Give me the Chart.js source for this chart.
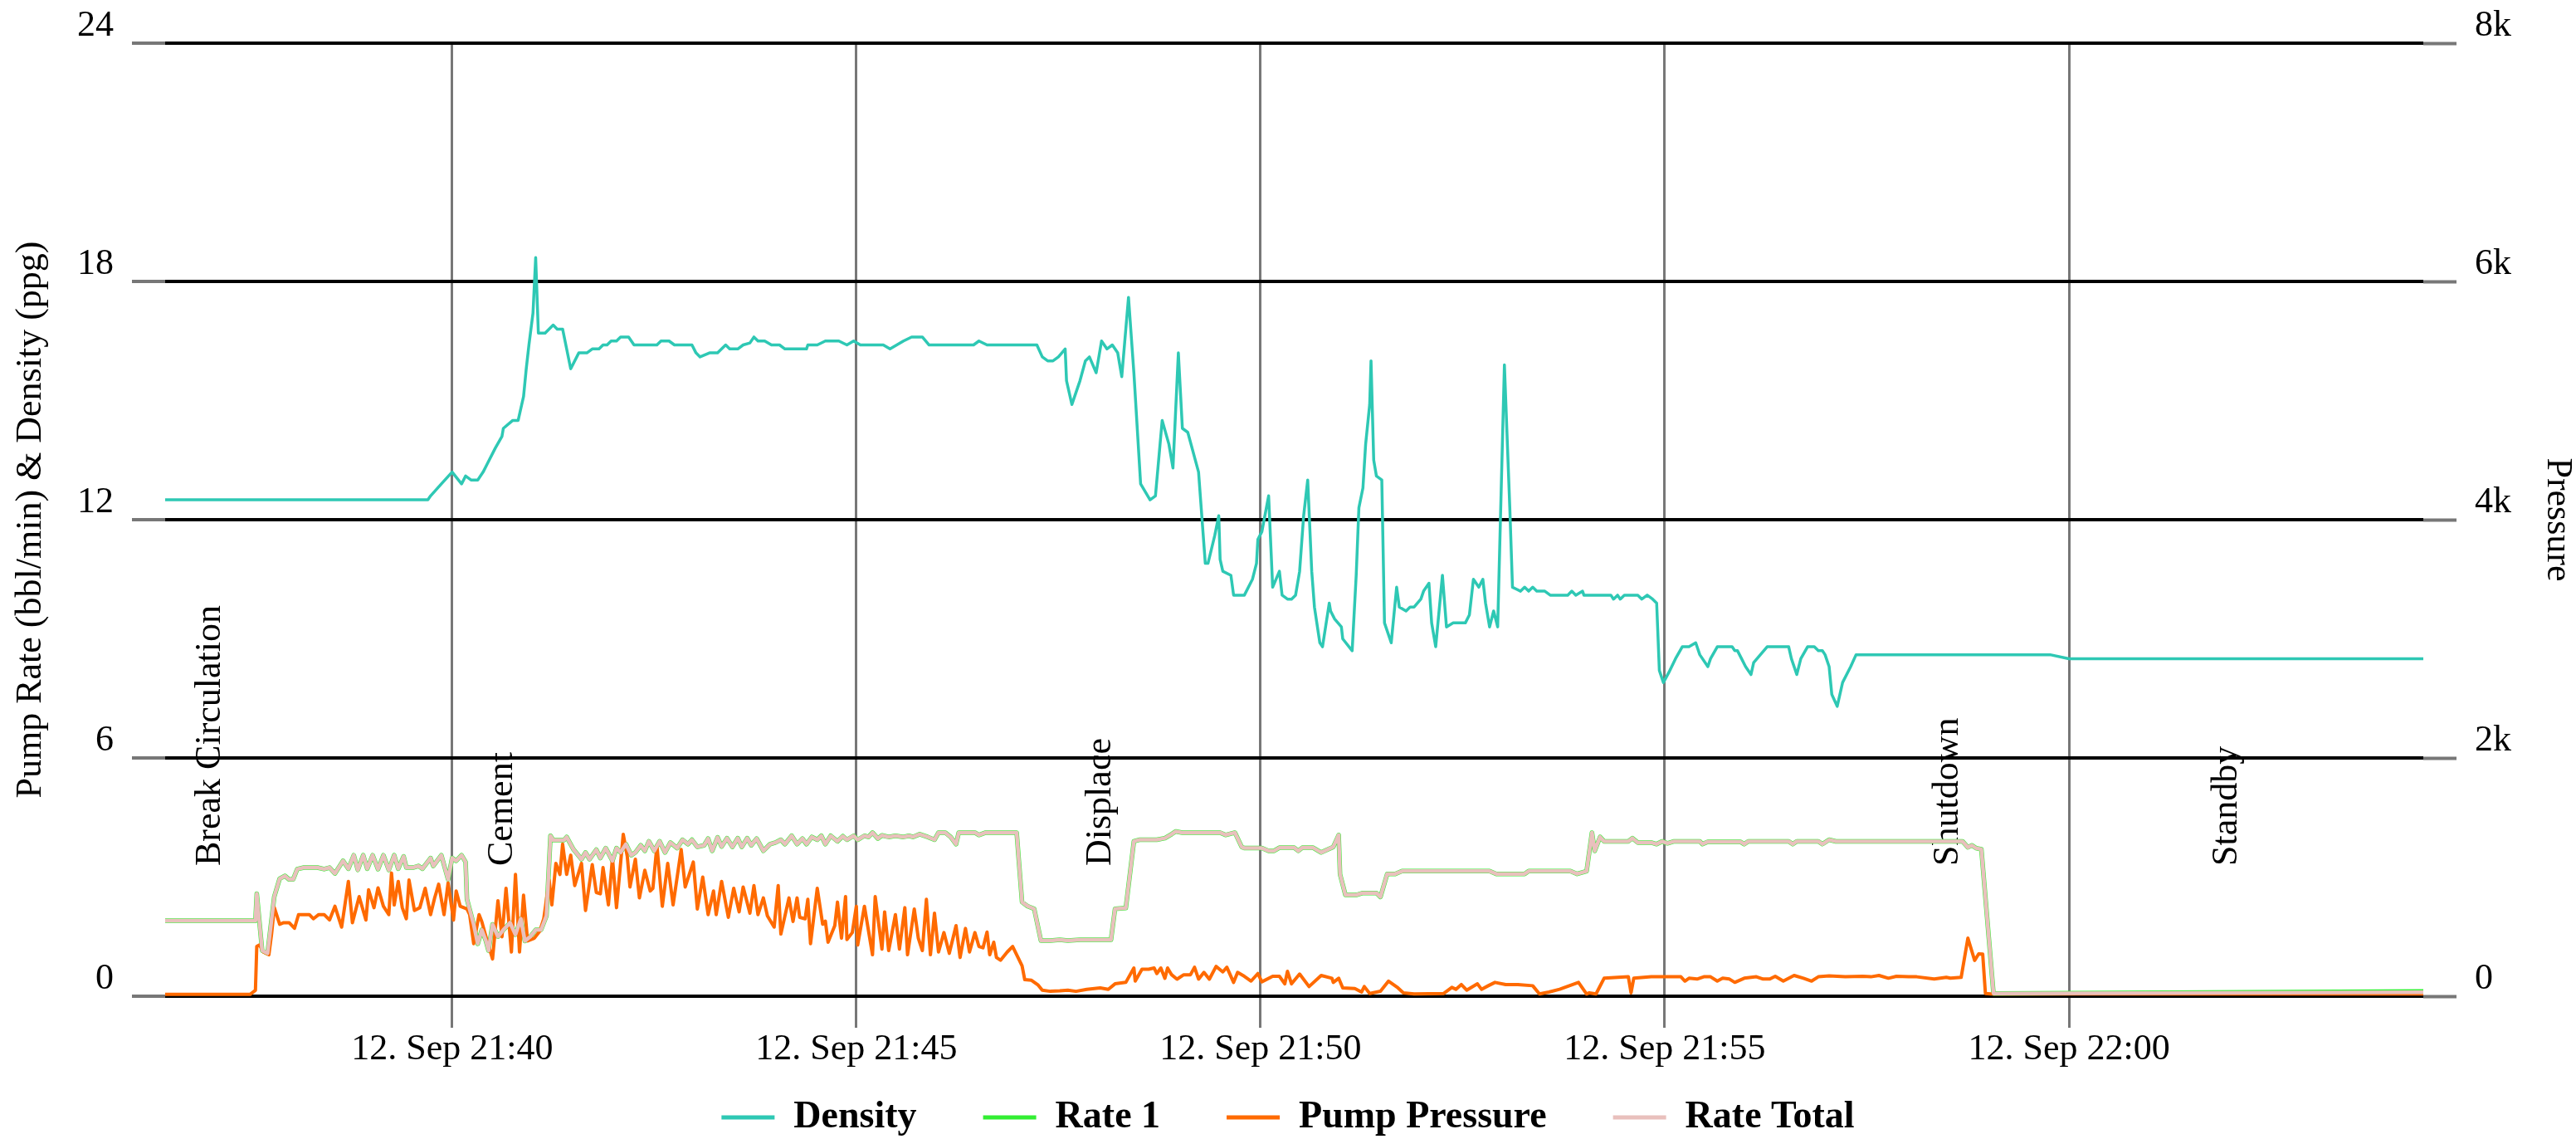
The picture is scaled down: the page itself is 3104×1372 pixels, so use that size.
<!DOCTYPE html>
<html>
<head>
<meta charset="utf-8">
<script src="https://cdn.jsdelivr.net/npm/chart.js@4.4.1/dist/chart.umd.min.js"></script>
<style>
  html, body { margin: 0; padding: 0; background: #fff; }
</style>
</head>
<body>
<canvas id="chart" width="3104" height="1372"></canvas>
<script>
// readings: [clock time, value]
const densitySeries = [
  ['21:36:27',12.5],['21:39:42',12.5],['21:39:44',12.6],['21:39:52',12.9],['21:40:00',13.2],['21:40:07',12.9],['21:40:10',13.1],['21:40:14',13.0],['21:40:19',13.0],['21:40:23',13.2],
  ['21:40:26',13.4],['21:40:32',13.8],['21:40:37',14.1],['21:40:38',14.3],['21:40:45',14.5],['21:40:49',14.5],['21:40:53',15.1],['21:40:55',15.8],['21:40:57',16.4],['21:41:00',17.2],
  ['21:41:02',18.6],['21:41:04',16.7],['21:41:09',16.7],['21:41:15',16.9],['21:41:18',16.8],['21:41:22',16.8],['21:41:28',15.8],['21:41:34',16.2],['21:41:40',16.2],['21:41:44',16.3],
  ['21:41:49',16.3],['21:41:52',16.4],['21:41:55',16.4],['21:41:58',16.5],['21:42:02',16.5],['21:42:05',16.6],['21:42:11',16.6],['21:42:15',16.4],['21:42:32',16.4],['21:42:35',16.5],
  ['21:42:41',16.5],['21:42:45',16.4],['21:42:58',16.4],['21:43:01',16.2],['21:43:04',16.1],['21:43:11',16.2],['21:43:17',16.2],['21:43:20',16.3],['21:43:23',16.4],['21:43:26',16.3],
  ['21:43:32',16.3],['21:43:36',16.4],['21:43:41',16.45],['21:43:44',16.6],['21:43:47',16.5],['21:43:52',16.5],['21:43:57',16.4],['21:44:03',16.4],['21:44:07',16.3],['21:44:23',16.3],
  ['21:44:24',16.4],['21:44:31',16.4],['21:44:37',16.5],['21:44:47',16.5],['21:44:53',16.4],['21:44:58',16.5],['21:45:03',16.4],['21:45:20',16.4],['21:45:25',16.3],['21:45:30',16.4],
  ['21:45:35',16.5],['21:45:41',16.6],['21:45:49',16.6],['21:45:54',16.4],['21:46:27',16.4],['21:46:31',16.5],['21:46:37',16.4],['21:47:14',16.4],['21:47:18',16.1],['21:47:22',16.0],
  ['21:47:26',16.0],['21:47:30',16.1],['21:47:35',16.3],['21:47:36',15.5],['21:47:40',14.9],['21:47:43',15.2],['21:47:46',15.5],['21:47:50',16.0],['21:47:53',16.1],['21:47:58',15.7],
  ['21:48:02',16.5],['21:48:06',16.3],['21:48:10',16.4],['21:48:14',16.2],['21:48:17',15.6],['21:48:22',17.6],['21:48:26',15.7],['21:48:31',12.9],['21:48:38',12.5],['21:48:42',12.6],
  ['21:48:47',14.5],['21:48:52',13.9],['21:48:55',13.3],['21:48:59',16.2],['21:49:02',14.3],['21:49:06',14.2],['21:49:14',13.2],['21:49:19',10.9],['21:49:21',10.9],['21:49:26',11.6],
  ['21:49:29',12.1],['21:49:30',11.0],['21:49:32',10.7],['21:49:38',10.6],['21:49:40',10.1],['21:49:48',10.1],['21:49:54',10.5],['21:49:57',10.9],['21:49:58',11.5],['21:50:01',11.7],
  ['21:50:06',12.6],['21:50:09',10.3],['21:50:14',10.7],['21:50:16',10.1],['21:50:20',10.0],['21:50:23',10.0],['21:50:26',10.1],['21:50:29',10.7],['21:50:32',12.1],['21:50:35',13.0],
  ['21:50:38',10.7],['21:50:40',9.8],['21:50:44',8.9],['21:50:46',8.8],['21:50:51',9.9],['21:50:52',9.7],['21:50:55',9.5],['21:51:00',9.3],['21:51:01',9.0],['21:51:08',8.7],
  ['21:51:11',10.6],['21:51:13',12.3],['21:51:16',12.8],['21:51:18',13.9],['21:51:21',14.9],['21:51:22',16.0],['21:51:24',13.5],['21:51:26',13.1],['21:51:30',13.0],['21:51:32',9.4],
  ['21:51:37',8.9],['21:51:41',10.3],['21:51:43',9.8],['21:51:48',9.7],['21:51:51',9.8],['21:51:54',9.8],['21:51:59',10.0],['21:52:01',10.2],['21:52:05',10.4],['21:52:07',9.4],
  ['21:52:10',8.8],['21:52:15',10.6],['21:52:18',9.3],['21:52:23',9.4],['21:52:32',9.4],['21:52:35',9.6],['21:52:38',10.5],['21:52:42',10.3],['21:52:45',10.5],['21:52:47',9.9],
  ['21:52:50',9.3],['21:52:53',9.7],['21:52:56',9.3],['21:53:01',15.9],['21:53:05',12.3],['21:53:07',10.3],['21:53:10',10.25],['21:53:13',10.2],['21:53:16',10.3],['21:53:19',10.2],
  ['21:53:22',10.3],['21:53:25',10.2],['21:53:31',10.2],['21:53:35',10.1],['21:53:48',10.1],['21:53:51',10.2],['21:53:54',10.1],['21:53:59',10.2],['21:54:00',10.1],['21:54:20',10.1],
  ['21:54:22',10.0],['21:54:25',10.1],['21:54:27',10.0],['21:54:30',10.1],['21:54:40',10.1],['21:54:43',10.0],['21:54:47',10.1],['21:54:51',10.0],['21:54:54',9.9],['21:54:56',8.2],
  ['21:54:59',7.9],['21:55:03',8.15],['21:55:08',8.5],['21:55:13',8.8],['21:55:18',8.8],['21:55:23',8.9],['21:55:26',8.6],['21:55:32',8.3],['21:55:34',8.5],['21:55:39',8.8],
  ['21:55:50',8.8],['21:55:52',8.7],['21:55:54',8.7],['21:55:57',8.5],['21:56:00',8.3],['21:56:04',8.1],['21:56:06',8.4],['21:56:11',8.6],['21:56:16',8.8],['21:56:32',8.8],
  ['21:56:34',8.5],['21:56:38',8.1],['21:56:41',8.5],['21:56:46',8.8],['21:56:51',8.8],['21:56:54',8.7],['21:56:57',8.7],['21:56:59',8.6],['21:57:02',8.3],['21:57:04',7.6],
  ['21:57:08',7.3],['21:57:12',7.9],['21:57:18',8.3],['21:57:22',8.6],['21:59:46',8.6],['22:00:00',8.5],['22:04:23',8.5]
];

const rateTotalSeries = [
  ['21:36:27',1.90],['21:37:34',1.90],['21:37:35',2.58],['21:37:39',1.15],['21:37:43',1.08],['21:37:48',2.51],['21:37:52',2.96],['21:37:56',3.03],['21:37:59',2.94],['21:38:02',2.94],
  ['21:38:05',3.20],['21:38:10',3.24],['21:38:20',3.24],['21:38:25',3.20],['21:38:29',3.24],['21:38:33',3.09],['21:38:39',3.41],['21:38:43',3.21],['21:38:47',3.55],['21:38:50',3.18],
  ['21:38:54',3.55],['21:38:57',3.21],['21:39:01',3.55],['21:39:05',3.20],['21:39:09',3.55],['21:39:13',3.18],['21:39:17',3.55],['21:39:20',3.21],['21:39:24',3.52],['21:39:26',3.24],
  ['21:39:31',3.24],['21:39:35',3.28],['21:39:38',3.21],['21:39:44',3.48],['21:39:46',3.28],['21:39:52',3.55],['21:39:57',2.94],['21:40:00',3.48],['21:40:03',3.41],['21:40:07',3.55],
  ['21:40:10',3.38],['21:40:11',2.44],['21:40:16',1.81],['21:40:19',1.32],['21:40:22',1.67],['21:40:25',1.40],['21:40:27',1.15],['21:40:30',1.81],['21:40:34',1.50],['21:40:38',1.67],
  ['21:40:43',1.85],['21:40:47',1.55],['21:40:51',1.95],['21:40:54',1.39],['21:40:58',1.50],['21:41:02',1.67],['21:41:06',1.67],['21:41:10',2.02],['21:41:13',4.04],['21:41:15',3.93],
  ['21:41:23',3.93],['21:41:25',4.01],['21:41:30',3.70],['21:41:36',3.45],['21:41:39',3.62],['21:41:42',3.45],['21:41:47',3.69],['21:41:50',3.48],['21:41:54',3.73],['21:41:59',3.41],
  ['21:42:02',3.73],['21:42:05',3.62],['21:42:09',3.83],['21:42:13',3.55],['21:42:16',3.62],['21:42:20',3.80],['21:42:23',3.66],['21:42:26',3.90],['21:42:30',3.66],['21:42:34',3.90],
  ['21:42:38',3.62],['21:42:42',3.87],['21:42:47',3.73],['21:42:51',3.94],['21:42:55',3.83],['21:42:58',3.94],['21:43:02',3.76],['21:43:07',3.80],['21:43:10',3.97],['21:43:13',3.66],
  ['21:43:17',4.00],['21:43:20',3.77],['21:43:24',3.98],['21:43:28',3.76],['21:43:32',3.98],['21:43:35',3.76],['21:43:39',3.98],['21:43:42',3.80],['21:43:46',3.97],['21:43:51',3.66],
  ['21:43:56',3.83],['21:44:00',3.87],['21:44:04',3.94],['21:44:07',3.83],['21:44:12',4.04],['21:44:16',3.83],['21:44:20',3.97],['21:44:23',3.83],['21:44:27',4.01],['21:44:31',3.94],
  ['21:44:34',4.04],['21:44:37',3.83],['21:44:41',4.04],['21:44:46',3.90],['21:44:50',4.03],['21:44:53',3.94],['21:44:58',4.04],['21:45:01',3.94],['21:45:06',4.04],['21:45:09',4.01],
  ['21:45:12',4.12],['21:45:16',3.97],['21:45:19',4.05],['21:45:24',4.01],['21:45:29',4.04],['21:45:35',4.01],['21:45:39',4.04],['21:45:42',4.01],['21:45:47',4.08],['21:45:53',4.01],
  ['21:45:58',3.94],['21:46:01',4.12],['21:46:06',4.12],['21:46:10',4.01],['21:46:14',3.83],['21:46:16',4.12],['21:46:28',4.12],['21:46:31',4.06],['21:46:36',4.12],['21:46:59',4.12],
  ['21:47:03',2.37],['21:47:07',2.27],['21:47:12',2.20],['21:47:17',1.40],['21:47:24',1.40],['21:47:31',1.42],['21:47:37',1.40],['21:47:46',1.42],['21:48:09',1.42],['21:48:12',2.20],
  ['21:48:20',2.22],['21:48:26',3.90],['21:48:30',3.94],['21:48:43',3.94],['21:48:49',3.98],['21:48:54',4.08],['21:48:57',4.15],['21:49:02',4.12],['21:49:30',4.12],['21:49:34',4.06],
  ['21:49:41',4.12],['21:49:46',3.76],['21:49:48',3.73],['21:50:01',3.73],['21:50:06',3.66],['21:50:10',3.66],['21:50:14',3.74],['21:50:25',3.74],['21:50:28',3.66],['21:50:31',3.74],
  ['21:50:39',3.74],['21:50:45',3.62],['21:50:54',3.76],['21:50:58',4.06],['21:50:59',3.07],['21:51:03',2.55],['21:51:11',2.55],['21:51:16',2.60],['21:51:26',2.60],['21:51:29',2.50],
  ['21:51:34',3.08],['21:51:40',3.08],['21:51:45',3.15],['21:52:50',3.15],['21:52:55',3.08],['21:53:16',3.08],['21:53:19',3.15],['21:53:50',3.15],['21:53:55',3.08],['21:54:02',3.15],
  ['21:54:06',4.12],['21:54:08',3.66],['21:54:12',4.01],['21:54:15',3.90],['21:54:33',3.90],['21:54:36',3.98],['21:54:40',3.87],['21:54:50',3.87],['21:54:54',3.83],['21:54:58',3.90],
  ['21:55:02',3.85],['21:55:07',3.90],['21:55:26',3.90],['21:55:28',3.83],['21:55:32',3.89],['21:55:56',3.89],['21:55:59',3.83],['21:56:02',3.90],['21:56:32',3.90],['21:56:35',3.83],
  ['21:56:38',3.90],['21:56:54',3.90],['21:56:57',3.83],['21:57:02',3.94],['21:57:07',3.90],['21:58:41',3.90],['21:58:45',3.75],['21:58:48',3.80],['21:58:51',3.73],['21:58:55',3.70],
  ['21:59:04',0.07],['22:04:23',0.10]
];

const rate1Series = [
  ['21:36:27',1.90],['21:37:34',1.90],['21:37:35',2.58],['21:37:39',1.15],['21:37:43',1.08],['21:37:48',2.51],['21:37:52',2.96],['21:37:56',3.03],['21:37:59',2.94],['21:38:02',2.94],
  ['21:38:05',3.20],['21:38:10',3.24],['21:38:20',3.24],['21:38:25',3.20],['21:38:29',3.24],['21:38:33',3.09],['21:38:39',3.41],['21:38:43',3.21],['21:38:47',3.55],['21:38:50',3.18],
  ['21:38:54',3.55],['21:38:57',3.21],['21:39:01',3.55],['21:39:05',3.20],['21:39:09',3.55],['21:39:13',3.18],['21:39:17',3.55],['21:39:20',3.21],['21:39:24',3.52],['21:39:26',3.24],
  ['21:39:31',3.24],['21:39:35',3.28],['21:39:38',3.21],['21:39:44',3.48],['21:39:46',3.28],['21:39:52',3.55],['21:39:57',2.94],['21:40:00',3.48],['21:40:03',3.41],['21:40:07',3.55],
  ['21:40:10',3.38],['21:40:11',2.44],['21:40:16',1.81],['21:40:19',1.32],['21:40:22',1.67],['21:40:25',1.40],['21:40:27',1.15],['21:40:30',1.81],['21:40:34',1.50],['21:40:38',1.67],
  ['21:40:43',1.85],['21:40:47',1.55],['21:40:51',1.95],['21:40:54',1.39],['21:40:58',1.50],['21:41:02',1.67],['21:41:06',1.67],['21:41:10',2.02],['21:41:13',4.04],['21:41:15',3.93],
  ['21:41:23',3.93],['21:41:25',4.01],['21:41:30',3.70],['21:41:36',3.45],['21:41:39',3.62],['21:41:42',3.45],['21:41:47',3.69],['21:41:50',3.48],['21:41:54',3.73],['21:41:59',3.41],
  ['21:42:02',3.73],['21:42:05',3.62],['21:42:09',3.83],['21:42:13',3.55],['21:42:16',3.62],['21:42:20',3.80],['21:42:23',3.66],['21:42:26',3.90],['21:42:30',3.66],['21:42:34',3.90],
  ['21:42:38',3.62],['21:42:42',3.87],['21:42:47',3.73],['21:42:51',3.94],['21:42:55',3.83],['21:42:58',3.94],['21:43:02',3.76],['21:43:07',3.80],['21:43:10',3.97],['21:43:13',3.66],
  ['21:43:17',4.00],['21:43:20',3.77],['21:43:24',3.98],['21:43:28',3.76],['21:43:32',3.98],['21:43:35',3.76],['21:43:39',3.98],['21:43:42',3.80],['21:43:46',3.97],['21:43:51',3.66],
  ['21:43:56',3.83],['21:44:00',3.87],['21:44:04',3.94],['21:44:07',3.83],['21:44:12',4.04],['21:44:16',3.83],['21:44:20',3.97],['21:44:23',3.83],['21:44:27',4.01],['21:44:31',3.94],
  ['21:44:34',4.04],['21:44:37',3.83],['21:44:41',4.04],['21:44:46',3.90],['21:44:50',4.03],['21:44:53',3.94],['21:44:58',4.04],['21:45:01',3.94],['21:45:06',4.04],['21:45:09',4.01],
  ['21:45:12',4.12],['21:45:16',3.97],['21:45:19',4.05],['21:45:24',4.01],['21:45:29',4.04],['21:45:35',4.01],['21:45:39',4.04],['21:45:42',4.01],['21:45:47',4.08],['21:45:53',4.01],
  ['21:45:58',3.94],['21:46:01',4.12],['21:46:06',4.12],['21:46:10',4.01],['21:46:14',3.83],['21:46:16',4.12],['21:46:28',4.12],['21:46:31',4.06],['21:46:36',4.12],['21:46:59',4.12],
  ['21:47:03',2.37],['21:47:07',2.27],['21:47:12',2.20],['21:47:17',1.40],['21:47:24',1.40],['21:47:31',1.42],['21:47:37',1.40],['21:47:46',1.42],['21:48:09',1.42],['21:48:12',2.20],
  ['21:48:20',2.22],['21:48:26',3.90],['21:48:30',3.94],['21:48:43',3.94],['21:48:49',3.98],['21:48:54',4.08],['21:48:57',4.15],['21:49:02',4.12],['21:49:30',4.12],['21:49:34',4.06],
  ['21:49:41',4.12],['21:49:46',3.76],['21:49:48',3.73],['21:50:01',3.73],['21:50:06',3.66],['21:50:10',3.66],['21:50:14',3.74],['21:50:25',3.74],['21:50:28',3.66],['21:50:31',3.74],
  ['21:50:39',3.74],['21:50:45',3.62],['21:50:54',3.76],['21:50:58',4.06],['21:50:59',3.07],['21:51:03',2.55],['21:51:11',2.55],['21:51:16',2.60],['21:51:26',2.60],['21:51:29',2.50],
  ['21:51:34',3.08],['21:51:40',3.08],['21:51:45',3.15],['21:52:50',3.15],['21:52:55',3.08],['21:53:16',3.08],['21:53:19',3.15],['21:53:50',3.15],['21:53:55',3.08],['21:54:02',3.15],
  ['21:54:06',4.12],['21:54:08',3.66],['21:54:12',4.01],['21:54:15',3.90],['21:54:33',3.90],['21:54:36',3.98],['21:54:40',3.87],['21:54:50',3.87],['21:54:54',3.83],['21:54:58',3.90],
  ['21:55:02',3.85],['21:55:07',3.90],['21:55:26',3.90],['21:55:28',3.83],['21:55:32',3.89],['21:55:56',3.89],['21:55:59',3.83],['21:56:02',3.90],['21:56:32',3.90],['21:56:35',3.83],
  ['21:56:38',3.90],['21:56:54',3.90],['21:56:57',3.83],['21:57:02',3.94],['21:57:07',3.90],['21:58:41',3.90],['21:58:45',3.75],['21:58:48',3.80],['21:58:51',3.73],['21:58:55',3.70],
  ['21:59:04',0.07],['22:04:23',0.12]
];

const pressureSeries = [
  ['21:36:27',15],['21:37:30',15],['21:37:34',49],['21:37:35',418],['21:37:37',430],['21:37:40',372],['21:37:44',348],['21:37:46',523],['21:37:48',744],['21:37:52',604],
  ['21:37:55',617],['21:37:59',617],['21:38:03',570],['21:38:06',685],['21:38:11',685],['21:38:14',685],['21:38:17',650],['21:38:21',685],['21:38:25',685],['21:38:29',640],
  ['21:38:33',755],['21:38:38',580],['21:38:43',964],['21:38:46',617],['21:38:51',836],['21:38:56',639],['21:38:58',894],['21:39:02',743],['21:39:05',910],['21:39:09',755],
  ['21:39:13',685],['21:39:15',1034],['21:39:17',766],['21:39:20',964],['21:39:23',743],['21:39:26',650],['21:39:28',975],['21:39:32',720],['21:39:36',743],['21:39:40',906],
  ['21:39:44',685],['21:39:47',824],['21:39:50',940],['21:39:54',685],['21:39:57',951],['21:40:01',639],['21:40:03',883],['21:40:06',755],['21:40:11',732],['21:40:13',685],
  ['21:40:16',441],['21:40:20',685],['21:40:22',627],['21:40:26',464],['21:40:30',313],['21:40:34',802],['21:40:37',499],['21:40:40',906],['21:40:44',371],['21:40:47',1022],
  ['21:40:50',371],['21:40:53',848],['21:40:56',464],['21:41:01',487],['21:41:05',545],['21:41:08',650],['21:41:12',975],['21:41:14',766],['21:41:17',1115],['21:41:20',1022],
  ['21:41:22',1277],['21:41:25',1022],['21:41:28',1184],['21:41:31',929],['21:41:36',1115],['21:41:39',720],['21:41:44',1104],['21:41:47',871],['21:41:50',860],['21:41:52',1080],
  ['21:41:56',767],['21:41:59',1161],['21:42:02',743],['21:42:07',1359],['21:42:10',1173],['21:42:12',917],['21:42:16',1150],['21:42:19',825],['21:42:23',1057],['21:42:27',883],
  ['21:42:29',905],['21:42:32',1266],['21:42:36',755],['21:42:40',1115],['21:42:44',767],['21:42:50',1231],['21:42:53',917],['21:42:59',1126],['21:43:02',732],['21:43:06',1000],
  ['21:43:10',685],['21:43:14',883],['21:43:16',685],['21:43:20',964],['21:43:25',662],['21:43:29',906],['21:43:33',708],['21:43:36',917],['21:43:41',697],['21:43:44',929],
  ['21:43:47',685],['21:43:51',825],['21:43:54',674],['21:43:59',580],['21:44:02',929],['21:44:04',522],['21:44:10',825],['21:44:13',627],['21:44:16',825],['21:44:18',662],
  ['21:44:22',650],['21:44:24',813],['21:44:26',441],['21:44:31',906],['21:44:35',604],['21:44:37',630],['21:44:39',453],['21:44:44',592],['21:44:46',790],['21:44:49',487],
  ['21:44:52',836],['21:44:53',476],['21:44:57',534],['21:45:00',755],['21:45:01',430],['21:45:06',755],['21:45:12',348],['21:45:14',836],['21:45:19',395],['21:45:21',708],
  ['21:45:24',383],['21:45:29',685],['21:45:32',395],['21:45:36',743],['21:45:38',348],['21:45:43',732],['21:45:46',487],['21:45:49',383],['21:45:52',813],['21:45:55',348],
  ['21:45:58',697],['21:46:01',371],['21:46:05',534],['21:46:09',360],['21:46:14',592],['21:46:17',325],['21:46:21',569],['21:46:24',371],['21:46:28',534],['21:46:31',418],
  ['21:46:34',406],['21:46:37',538],['21:46:39',348],['21:46:42',453],['21:46:44',325],['21:46:47',302],['21:46:52',371],['21:46:56',418],['21:47:00',325],['21:47:03',255],
  ['21:47:05',139],['21:47:10',134],['21:47:15',93],['21:47:18',51],['21:47:24',41],['21:47:31',45],['21:47:37',51],['21:47:43',41],['21:47:51',58],['21:48:01',70],
  ['21:48:07',58],['21:48:12',104],['21:48:20',116],['21:48:26',237],['21:48:27',127],['21:48:32',227],['21:48:37',227],['21:48:41',237],['21:48:43',190],['21:48:46',237],
  ['21:48:49',150],['21:48:51',237],['21:48:54',180],['21:48:58',143],['21:49:03',180],['21:49:08',180],['21:49:11',243],['21:49:14',143],['21:49:18',200],['21:49:22',143],
  ['21:49:27',250],['21:49:32',204],['21:49:35',243],['21:49:40',116],['21:49:43',200],['21:49:48',167],['21:49:53',127],['21:49:58',190],['21:50:01',121],['21:50:09',167],
  ['21:50:14',167],['21:50:18',104],['21:50:20',209],['21:50:23',104],['21:50:29',186],['21:50:36',81],['21:50:45',174],['21:50:53',151],['21:50:54',116],['21:50:58',151],
  ['21:51:01',70],['21:51:10',65],['21:51:15',35],['21:51:17',81],['21:51:21',23],['21:51:29',42],['21:51:35',127],['21:51:42',70],['21:51:46',28],['21:51:54',19],
  ['21:52:16',23],['21:52:22',74],['21:52:25',58],['21:52:29',98],['21:52:33',51],['21:52:41',104],['21:52:44',58],['21:52:49',88],['21:52:54',116],['21:53:02',98],
  ['21:53:11',98],['21:53:22',88],['21:53:27',19],['21:53:34',35],['21:53:42',58],['21:53:56',116],['21:54:02',19],['21:54:04',28],['21:54:09',19],['21:54:15',151],
  ['21:54:33',163],['21:54:35',28],['21:54:37',151],['21:54:50',163],['21:55:12',163],['21:55:15',127],['21:55:18',151],['21:55:24',144],['21:55:29',163],['21:55:34',163],
  ['21:55:39',127],['21:55:43',151],['21:55:48',144],['21:55:52',116],['21:55:59',151],['21:56:08',163],['21:56:13',144],['21:56:18',144],['21:56:22',167],['21:56:28',127],
  ['21:56:36',174],['21:56:43',151],['21:56:49',127],['21:56:54',163],['21:57:02',170],['21:57:14',163],['21:57:27',167],['21:57:33',163],['21:57:39',174],['21:57:46',151],
  ['21:57:52',167],['21:58:01',163],['21:58:07',163],['21:58:20',144],['21:58:29',158],['21:58:32',151],['21:58:40',158],['21:58:45',488],['21:58:50',300],['21:58:53',355],
  ['21:58:56',353],['21:58:58',23],['21:59:02',19],['22:04:23',19]
];

const xStart = '21:36:27';
const xEnd = '22:04:23';
const dayLabel = '12. Sep';
const xTickTimes = ['21:40', '21:45', '21:50', '21:55', '22:00'];

const phaseNames = ['Break Circulation', 'Cement', 'Displace', 'Shutdown', 'Standby'];
const phaseTimes = ['21:36:27', '21:40:04', '21:47:28', '21:57:57', '22:01:24'];

const FONT = '"Liberation Serif", "Times New Roman", serif';

function toSec(t) {
  let p = t.split(':').map(Number);
  return p[0] * 3600 + p[1] * 60 + (p[2] || 0);
}

function clock(s) {
  let h = Math.floor(s / 3600);
  let m = Math.round((s - h * 3600) / 60);
  return h + ':' + String(m).padStart(2, '0');
}

function toPoints(series) {
  return series.map(([t, v]) => ({ x: toSec(t), y: v }));
}

// vertical phase names, drawn under the lines
const phasePlugin = {
  id: 'phaseLabels',
  afterLayout(chart) {
    // legend sits in the bottom strip, below the date labels
    let lg = chart.legend;
    if (lg) {
      lg.top = chart.height - 129;
      lg.bottom = chart.height;
    }
  },
  beforeDatasetsDraw(chart) {
    let ctx = chart.ctx;
    let x = chart.scales.x;
    let baseY = chart.chartArea.bottom - 157;
    ctx.save();
    ctx.font = '44px ' + FONT;
    ctx.fillStyle = '#000';
    ctx.textAlign = 'left';
    ctx.textBaseline = 'alphabetic';
    phaseNames.forEach((name, i) => {
      let px = x.getPixelForValue(toSec(phaseTimes[i])) + 66;
      ctx.save();
      ctx.translate(px, baseY);
      ctx.rotate(-Math.PI / 2);
      ctx.fillText(name, 0, 0);
      ctx.restore();
    });
    ctx.restore();
  }
};

function line(label, series, color, width, axis, order) {
  return {
    label: label,
    data: toPoints(series),
    yAxisID: axis,
    borderColor: color,
    backgroundColor: color,
    borderWidth: width,
    pointRadius: 0,
    tension: 0,
    fill: false,
    order: order
  };
}

new Chart(document.getElementById('chart'), {
  type: 'line',
  data: {
    datasets: [
      line('Density', densitySeries, '#2ec8b4', 3.5, 'y', 4),
      line('Rate 1', rate1Series, '#33ee33', 5.5, 'y', 3),
      line('Pump Pressure', pressureSeries, '#ff6a00', 4, 'y1', 2),
      line('Rate Total', rateTotalSeries, '#e9c0bd', 4.5, 'y', 1)
    ]
  },
  options: {
    responsive: false,
    devicePixelRatio: 1,
    animation: false,
    events: [],
    layout: { padding: { top: 52, left: 0, right: 0, bottom: 0 } },
    elements: { line: { borderJoinStyle: 'round', borderCapStyle: 'round' } },
    plugins: {
      tooltip: { enabled: false },
      legend: {
        position: 'bottom',
        maxHeight: 82,
        labels: {
          color: '#000',
          font: { family: FONT, size: 46, weight: 'bold' },
          boxWidth: 64,
          boxHeight: 5,
          padding: 80,
          sort: (a, b) => a.datasetIndex - b.datasetIndex,
          generateLabels(chart) {
            let items = Chart.defaults.plugins.legend.labels.generateLabels(chart);
            items.forEach(item => {
              item.lineWidth = 0;
              item.fillStyle = chart.data.datasets[item.datasetIndex].borderColor;
            });
            return items;
          }
        }
      }
    },
    scales: {
      x: {
        type: 'linear',
        position: 'bottom',
        bounds: 'data',
        min: toSec(xStart),
        max: toSec(xEnd),
        afterBuildTicks(scale) {
          scale.ticks = xTickTimes.map(t => ({ value: toSec(t) }));
        },
        afterFit(scale) {
          scale.height = 90;
          scale.paddingLeft = 0;
          scale.paddingRight = 0;
        },
        border: { display: false },
        grid: { color: '#777', lineWidth: 3, tickColor: '#777', tickWidth: 3, tickLength: 38 },
        ticks: {
          color: '#000',
          font: { family: FONT, size: 44 },
          padding: 0,
          maxRotation: 0,
          autoSkip: false,
          callback: v => dayLabel + ' ' + clock(v)
        }
      },
      y: {
        position: 'left',
        min: 0,
        max: 24,
        afterFit(scale) {
          scale.width = 199;
          scale.paddingTop = 0;
          scale.paddingBottom = 0;
        },
        border: { display: false },
        grid: { color: '#000', lineWidth: 4, tickColor: '#777', tickWidth: 4, tickLength: 40 },
        ticks: {
          stepSize: 6,
          color: '#000',
          font: { family: FONT, size: 44 },
          padding: 22,
          labelOffset: -21
        },
        title: {
          display: true,
          text: 'Pump Rate (bbl/min) & Density (ppg)',
          color: '#000',
          font: { family: FONT, size: 44, lineHeight: 1 },
          padding: { top: 15, bottom: 0 }
        }
      },
      y1: {
        position: 'right',
        min: 0,
        max: 8000,
        afterFit(scale) {
          scale.width = 184;
          scale.paddingTop = 0;
          scale.paddingBottom = 0;
        },
        border: { display: false },
        grid: { drawOnChartArea: false, tickColor: '#777', tickWidth: 4, tickLength: 40 },
        ticks: {
          stepSize: 2000,
          color: '#000',
          font: { family: FONT, size: 44 },
          padding: 22,
          labelOffset: -21,
          callback: v => (v === 0 ? '0' : v / 1000 + 'k')
        },
        title: {
          display: true,
          text: 'Pressure',
          color: '#000',
          font: { family: FONT, size: 44, lineHeight: 1 },
          padding: { top: 0, bottom: 0 }
        }
      }
    }
  },
  plugins: [phasePlugin]
});
</script>
</body>
</html>
